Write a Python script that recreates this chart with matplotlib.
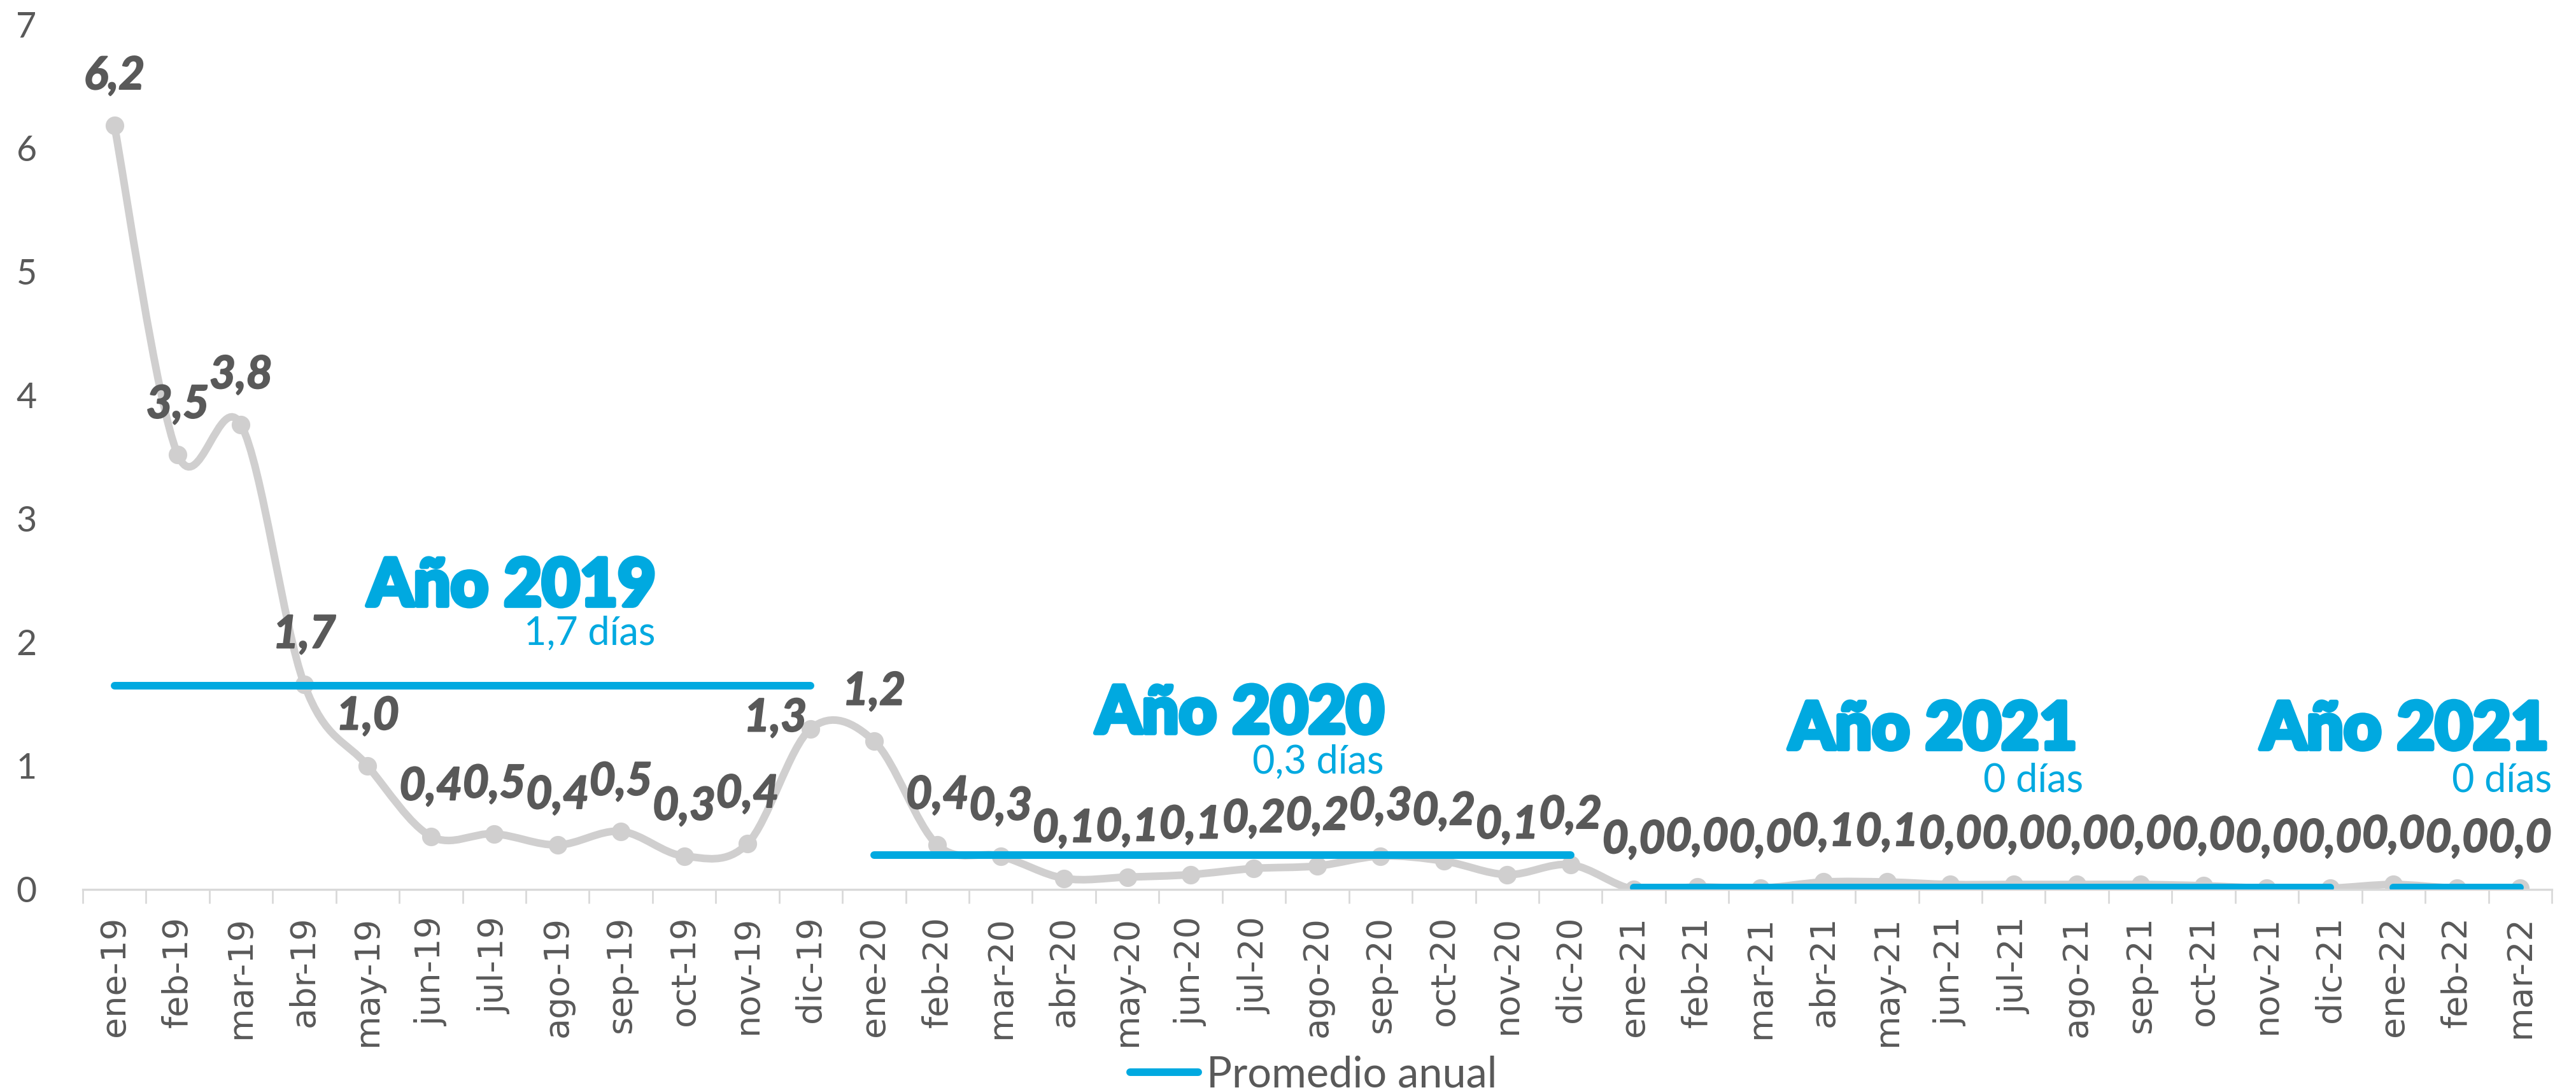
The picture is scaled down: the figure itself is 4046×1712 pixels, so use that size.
import numpy as np
import matplotlib.pyplot as plt
import matplotlib.patheffects as pe
from matplotlib.path import Path
from matplotlib.patches import PathPatch
from matplotlib.lines import Line2D

meses = ["ene-19", "feb-19", "mar-19", "abr-19", "may-19", "jun-19", "jul-19",
         "ago-19", "sep-19", "oct-19", "nov-19", "dic-19",
         "ene-20", "feb-20", "mar-20", "abr-20", "may-20", "jun-20", "jul-20",
         "ago-20", "sep-20", "oct-20", "nov-20", "dic-20",
         "ene-21", "feb-21", "mar-21", "abr-21", "may-21", "jun-21", "jul-21",
         "ago-21", "sep-21", "oct-21", "nov-21", "dic-21",
         "ene-22", "feb-22", "mar-22"]
dias = [6.18, 3.52, 3.76, 1.66, 1.0, 0.43, 0.45, 0.36, 0.47, 0.27, 0.37, 1.3,
        1.2, 0.36, 0.27, 0.09, 0.1, 0.12, 0.17, 0.19, 0.27, 0.23, 0.12, 0.2,
        0.0, 0.02, 0.01, 0.06, 0.06, 0.04, 0.04, 0.04, 0.04, 0.03, 0.01, 0.01,
        0.04, 0.01, 0.01]

anios = ["Año 2019", "Año 2020", "Año 2021", "Año 2021"]
promedios = [1.65, 0.28, 0.015, 0.015]
promedio_txt = ["1,7 días", "0,3 días", "0 días", "0 días"]
desde = ["ene-19", "ene-20", "ene-21", "ene-22"]
hasta = ["dic-19", "dic-20", "dic-21", "mar-22"]

GRIS = "#d0cfcf"
TEXTO = "#595959"
AZUL = "#00a9e0"

fig = plt.figure(figsize=(20.23, 8.56), dpi=200)
ax = fig.add_axes([0.0321, 0.184, 0.9585, 0.7938])

x = np.arange(len(meses))
y = np.array(dias)

# curva suavizada tipo Excel (Bezier cubica)
pts = np.column_stack([x, y])
ext = np.vstack([pts[0], pts, pts[-1]])
verts = [tuple(pts[0])]
codes = [Path.MOVETO]
for i in range(len(pts) - 1):
    p0, p1, p2, p3 = ext[i], ext[i + 1], ext[i + 2], ext[i + 3]
    c1 = p1 + (p2 - p0) / 6
    c2 = p2 - (p3 - p1) / 6
    verts += [tuple(c1), tuple(c2), tuple(p2)]
    codes += [Path.CURVE4] * 3
ax.add_patch(PathPatch(Path(verts, codes), facecolor="none", edgecolor=GRIS,
                       lw=4.3, capstyle="round", zorder=2))
ax.plot(x, y, "o", color=GRIS, ms=9.5, zorder=2)

grueso = [pe.withStroke(linewidth=0.8, foreground=TEXTO)]
for i, v in enumerate(dias):
    dx = -20 if meses[i] == "dic-19" else 0
    dy = 6 if meses[i] == "dic-19" else 28
    ax.annotate(f"{v:.1f}".replace(".", ","), (x[i], v), xytext=(dx, dy),
                textcoords="offset points", ha="center", va="center",
                fontsize=25.5, fontweight="bold", fontstyle="italic",
                family="Lato", color=TEXTO, zorder=4, path_effects=grueso)

for k in range(len(anios)):
    i0 = meses.index(desde[k])
    i1 = meses.index(hasta[k])
    ax.plot([i0, i1], [promedios[k], promedios[k]], color=AZUL, lw=4.3,
            solid_capstyle="round", zorder=3)

# textos de los promedios
pos_titulo = [(8.55, 2.45), (20.05, 1.42), (31.0, 1.29), (38.45, 1.29)]
pos_sub = [(8.55, 2.07), (20.05, 1.03), (31.1, 0.88), (38.5, 0.88)]
negro = [pe.withStroke(linewidth=2.5, foreground=AZUL)]
for k in range(len(anios)):
    ax.text(*pos_titulo[k], anios[k], ha="right", va="center", fontsize=37,
            fontweight="black", family="Lato", color=AZUL, path_effects=negro)
    ax.text(*pos_sub[k], promedio_txt[k], ha="right", va="center", fontsize=22,
            family="Lato", color=AZUL)

ax.set_xlim(-0.5, len(meses) - 0.5)
ax.set_ylim(0, 7)
ax.set_xticks(x)
ax.set_xticklabels(meses, rotation=90, fontsize=19.5, color=TEXTO, family="DejaVu Sans")
ax.set_xticks(np.arange(len(meses) + 1) - 0.5, minor=True)
ax.tick_params(axis="x", which="major", length=0, pad=15)
ax.tick_params(axis="x", which="minor", length=8, width=1, color="#d9d9d9")
ax.set_yticks(range(8))
ax.tick_params(axis="y", length=0, pad=26, labelsize=20, labelcolor=TEXTO)
for lab in ax.get_yticklabels():
    lab.set_family("Lato")
for s in ["top", "right", "left"]:
    ax.spines[s].set_visible(False)
ax.spines["bottom"].set_color("#d9d9d9")
ax.spines["bottom"].set_linewidth(1.2)

leg = [Line2D([0], [0], color=AZUL, lw=4.3, solid_capstyle="round")]
fig.legend(leg, ["Promedio anual"], loc="center", bbox_to_anchor=(0.51, 0.014),
           frameon=False, handlelength=1.6, handletextpad=0.2,
           prop={"family": "Lato", "size": 24}, labelcolor=TEXTO)

fig.savefig("out.png", dpi=200)
